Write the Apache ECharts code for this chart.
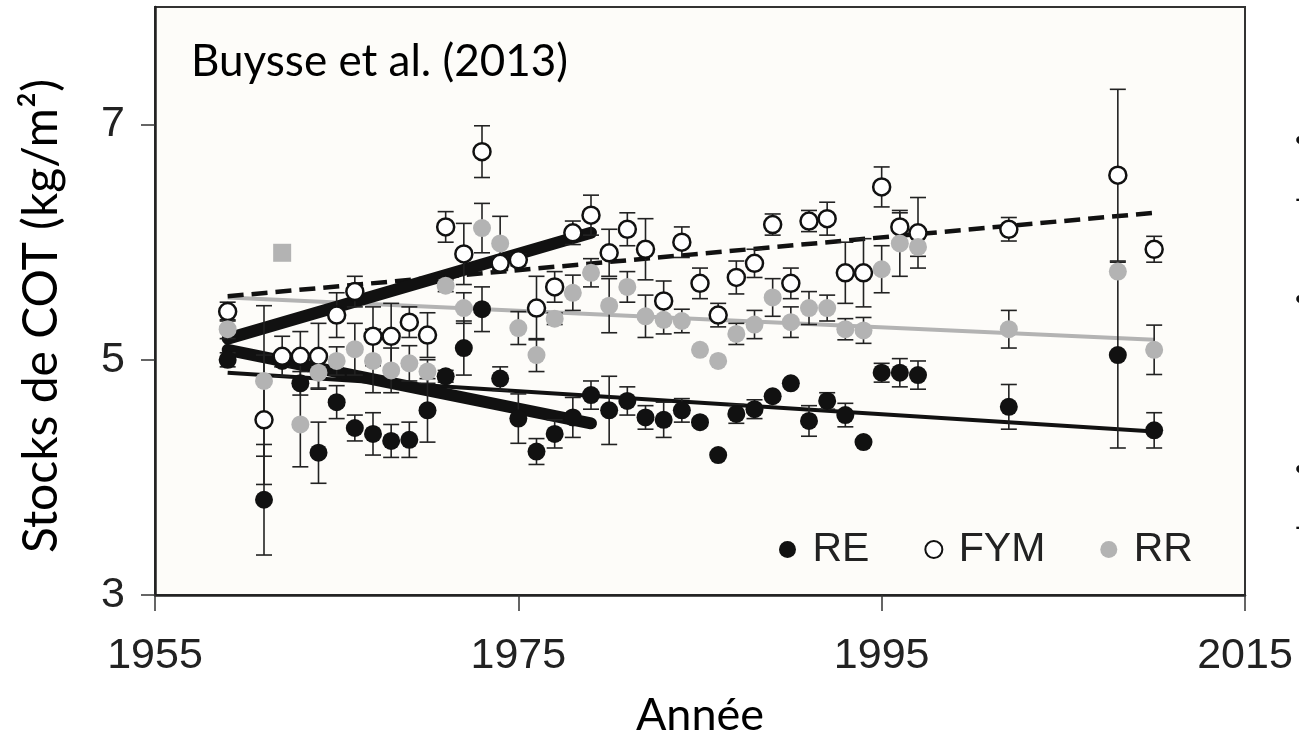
<!DOCTYPE html>
<html>
<head>
<meta charset="utf-8">
<script src="https://cdn.jsdelivr.net/npm/echarts@6/dist/echarts.min.js"></script>
<style>
  html, body { margin: 0; padding: 0; background: #ffffff; }
  #chart { width: 1299px; height: 737px; }
</style>
</head>
<body>
<div id="chart"></div>
<script>
// Sampling years
const years = [1959, 1961, 1962, 1963, 1964, 1965, 1966, 1967, 1968, 1969, 1970,
  1971, 1972, 1973, 1974, 1975, 1976, 1977, 1978, 1979, 1980, 1981, 1982, 1983,
  1984, 1985, 1986, 1987, 1988, 1989, 1990, 1991, 1992, 1993, 1994, 1995, 1996,
  1997, 2002, 2008, 2010];

// SOC stocks (kg/m²) and their standard errors, per treatment
const reValues = [5.00, 3.81, 4.99, 4.80, 4.21, 4.64, 4.42, 4.37, 4.31, 4.32, 4.57,
  4.86, 5.10, 5.43, 4.84, 4.50, 4.22, 4.37, 4.51, 4.70, 4.57, 4.65, 4.51, 4.49,
  4.57, 4.47, 4.19, 4.54, 4.58, 4.69, 4.80, 4.48, 4.65, 4.53, 4.30, 4.89, 4.89,
  4.87, 4.60, 5.04, 4.40];
const reErrors = [0.06, 0.47, 0.05, 0.10, 0.26, 0.14, 0.11, 0.18, 0.14, 0.15, 0.27,
  0.05, 0.23, 0.19, 0.10, 0.21, 0.11, 0.12, 0.17, 0.12, 0.29, 0.12, 0.10, 0.15,
  0.10, 0.03, 0, 0.08, 0.08, 0, 0, 0.13, 0.07, 0.10, 0, 0.08, 0.12,
  0.12, 0.19, 0.79, 0.15];

const fymValues = [5.41, 4.49, 5.03, 5.03, 5.03, 5.38, 5.58, 5.20, 5.20, 5.32, 5.21,
  6.13, 5.90, 6.77, 5.82, 5.85, 5.44, 5.62, 6.08, 6.23, 5.91, 6.11, 5.94, 5.50,
  6.00, 5.65, 5.38, 5.70, 5.82, 6.15, 5.65, 6.18, 6.20, 5.74, 5.74, 6.47, 6.13,
  6.08, 6.11, 6.57, 5.94];
const fymErrors = [0.08, 0.55, 0.17, 0.21, 0.28, 0.19, 0.13, 0.25, 0.28, 0.13, 0.19,
  0.13, 0.26, 0.22, 0.05, 0.05, 0.27, 0.13, 0.10, 0.17, 0.20, 0.14, 0.26, 0.17,
  0.13, 0.13, 0.10, 0.14, 0.12, 0.09, 0.13, 0.09, 0.14, 0.26, 0.29, 0.17, 0.12,
  0.30, 0.10, 0.73, 0.11];

const rrValues = [5.26, 4.82, 5.91, 4.45, 4.89, 4.99, 5.09, 4.99, 4.91, 4.97, 4.90,
  5.63, 5.44, 6.12, 5.99, 5.27, 5.04, 5.35, 5.57, 5.74, 5.46, 5.62, 5.37, 5.34,
  5.33, 5.085, 4.99, 5.22, 5.30, 5.53, 5.32, 5.44, 5.44, 5.26, 5.25, 5.77, 5.99,
  5.96, 5.26, 5.75, 5.085];
const rrErrors = [0.08, 0.64, 0, 0.36, 0.13, 0.12, 0.22, 0.27, 0.19, 0.15, 0.10,
  0.05, 0.13, 0.21, 0.23, 0.14, 0.14, 0.05, 0.15, 0.12, 0.23, 0.13, 0.18, 0.12,
  0.10, 0, 0, 0.09, 0.12, 0.16, 0.13, 0.14, 0.11, 0.09, 0.11, 0.20, 0.28,
  0.08, 0.16, 0, 0.21];

// Linear trends: [start year, value], [end year, value]
const trendREall = [[1959, 4.89], [2010, 4.39]];
const trendFYMall = [[1959, 5.54], [2010, 6.25]];
const trendRRall = [[1959, 5.53], [2010, 5.17]];
const trendFYMearly = [[1959, 5.18], [1979, 6.08]];
const trendREearly = [[1959, 5.085], [1979, 4.46]];

// Axis ticks
const xTicks = [1955, 1975, 1995, 2015];
const yTicks = [3, 5, 7];

// RR samples drawn with a square marker
const rrSquareYears = [1962];

// Bullet glyphs of the neighbouring slide text, cut by the right edge
const sideBullets = [['•', 144], ['-', 202], ['•', 303], ['•', 473], ['-', 530]];

const INK = '#111111';
const GREY = '#b3b3b3';
const labelFont = 'Liberation Sans, Arial, sans-serif';
const slideFont = 'Lato, "Open Sans", sans-serif';

function pairs(vals) {
  return years.map((y, i) => [y, vals[i]]);
}

function errorBars(name, vals, errs) {
  return {
    type: 'custom',
    name: name,
    silent: true,
    z: 3,
    encode: { x: 0, y: [1, 2] },
    data: years.map((y, i) => [y, vals[i] - errs[i], vals[i] + errs[i], errs[i]]),
    renderItem: function (params, api) {
      const e = api.value(3);
      if (!(e > 0)) return null;
      const x = api.value(0);
      const lo = api.coord([x, api.value(1)]);
      const hi = api.coord([x, api.value(2)]);
      const hw = 8;
      const st = { stroke: '#222222', lineWidth: 1.6, fill: null };
      return {
        type: 'group',
        children: [
          { type: 'line', shape: { x1: lo[0], y1: lo[1], x2: hi[0], y2: hi[1] }, style: st },
          { type: 'line', shape: { x1: lo[0] - hw, y1: lo[1], x2: lo[0] + hw, y2: lo[1] }, style: st },
          { type: 'line', shape: { x1: hi[0] - hw, y1: hi[1], x2: hi[0] + hw, y2: hi[1] }, style: st }
        ]
      };
    }
  };
}

function trendLine(name, data, style) {
  return {
    type: 'line',
    name: name,
    data: data,
    showSymbol: false,
    silent: true,
    z: 2,
    lineStyle: style
  };
}

const chart = echarts.init(document.getElementById('chart'), null, { renderer: 'canvas' });

chart.setOption({
  animation: false,
  backgroundColor: '#ffffff',
  title: {
    text: 'Buysse et al. (2013)',
    left: 191,
    top: 40,
    padding: 0,
    textStyle: { fontFamily: slideFont, fontSize: 44, fontWeight: 'normal', color: '#000' }
  },
  legend: {
    data: ['RE', 'FYM', 'RR'],
    left: 779,
    top: 529,
    padding: 0,
    itemWidth: 17,
    itemHeight: 17,
    itemGap: 55,
    formatter: function (name) { return ' ' + name; },
    textStyle: { fontFamily: labelFont, fontSize: 41, color: '#222' }
  },
  graphic: sideBullets.map(function (b) {
    return {
      type: 'text',
      left: 1295,
      top: b[1] - 17,
      silent: true,
      style: { text: b[0], fontFamily: labelFont, fontSize: 30, fill: '#111' }
    };
  }),
  grid: {
    left: 155,
    right: 54,
    top: 7,
    bottom: 142,
    outerBoundsMode: 'none',
    containLabel: false,
    show: true,
    backgroundColor: '#fdfcf9',
    borderColor: '#333333',
    borderWidth: 2
  },
  xAxis: {
    type: 'value',
    min: 1955,
    max: 2015,
    interval: 20,
    name: 'Année',
    nameLocation: 'middle',
    nameGap: 98,
    nameTextStyle: { fontFamily: slideFont, fontSize: 45, color: '#000' },
    axisLine: { show: true, lineStyle: { color: '#222', width: 2.5 } },
    axisTick: { show: true, inside: false, length: 16, lineStyle: { color: '#333', width: 1.5 }, customValues: xTicks },
    axisLabel: {
      customValues: xTicks,
      formatter: function (v) { return String(v); },
      margin: 40,
      fontFamily: labelFont,
      fontSize: 43,
      color: '#222'
    },
    splitLine: { show: false }
  },
  yAxis: {
    type: 'value',
    min: 3,
    max: 8,
    interval: 1,
    name: 'Stocks de COT (kg/m²)',
    nameLocation: 'middle',
    nameRotate: 90,
    nameGap: 89,
    nameTextStyle: { fontFamily: slideFont, fontSize: 48, color: '#000', padding: [0, 30, 0, 0] },
    axisLine: { show: true, lineStyle: { color: '#222', width: 2.5 } },
    axisTick: { show: true, inside: false, length: 14, lineStyle: { color: '#333', width: 1.5 }, customValues: yTicks },
    axisLabel: {
      customValues: yTicks,
      margin: 30,
      fontFamily: labelFont,
      fontSize: 43,
      color: '#222'
    },
    splitLine: { show: false }
  },
  series: [
    trendLine('RE trend', trendREall, { color: INK, width: 4 }),
    trendLine('RR trend', trendRRall, { color: GREY, width: 4 }),
    trendLine('FYM trend', trendFYMall, { color: INK, width: 4.5, type: [16, 8] }),
    trendLine('FYM early trend', trendFYMearly, { color: INK, width: 12, cap: 'round' }),
    trendLine('RE early trend', trendREearly, { color: INK, width: 12, cap: 'round' }),
    errorBars('RE se', reValues, reErrors),
    errorBars('FYM se', fymValues, fymErrors),
    errorBars('RR se', rrValues, rrErrors),
    {
      type: 'scatter',
      name: 'RE',
      z: 4,
      symbol: 'circle',
      symbolSize: 18,
      itemStyle: { color: INK, opacity: 1 },
      data: pairs(reValues)
    },
    {
      type: 'scatter',
      name: 'FYM',
      z: 5,
      symbol: 'circle',
      symbolSize: 17,
      itemStyle: { color: '#ffffff', borderColor: INK, borderWidth: 2.5, opacity: 1 },
      data: pairs(fymValues)
    },
    {
      type: 'scatter',
      name: 'RR',
      z: 6,
      symbol: function (value) {
        return rrSquareYears.indexOf(value[0]) >= 0 ? 'rect' : 'circle';
      },
      symbolSize: 18,
      itemStyle: { color: GREY, opacity: 1 },
      data: pairs(rrValues)
    }
  ]
});
</script>
</body>
</html>
